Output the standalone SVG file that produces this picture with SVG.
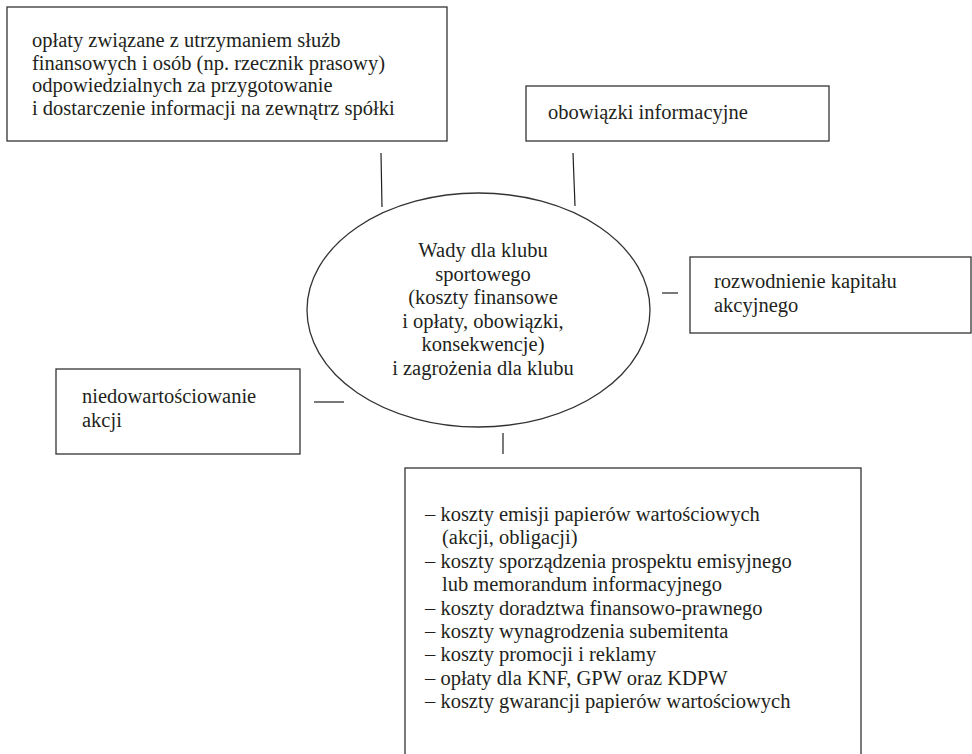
<svg xmlns="http://www.w3.org/2000/svg" width="972" height="754" viewBox="0 0 972 754">
<style>
.box{fill:#fff;stroke:#333;stroke-width:1.3}
.t{font-family:"Liberation Serif","Times New Roman",serif;font-size:20.5px;fill:#231f20}
.c{text-anchor:middle}
.ln{stroke:#231f20;stroke-width:1.2;fill:none}
</style>
<rect width="972" height="754" fill="#fff"/>
<g id="connectors">
<line class="ln" x1="381" y1="153" x2="382" y2="207"/>
<line class="ln" x1="573" y1="153" x2="575" y2="206"/>
<line class="ln" x1="662" y1="293" x2="678" y2="293"/>
<line class="ln" x1="314" y1="402" x2="344" y2="402"/>
<line class="ln" x1="503" y1="433" x2="503" y2="454"/>
</g>
<g id="node-oplaty">
<rect class="box" x="7" y="7" width="440" height="134"/>
<text class="t" x="32" y="47">opłaty związane z utrzymaniem służb</text>
<text class="t" x="32" y="69.5">finansowych i osób (np. rzecznik prasowy)</text>
<text class="t" x="32" y="92">odpowiedzialnych za przygotowanie</text>
<text class="t" x="32" y="114.5">i dostarczenie informacji na zewnątrz spółki</text>
</g>
<g id="node-obowiazki">
<rect class="box" x="526" y="86" width="303" height="55"/>
<text class="t" x="548" y="119">obowiązki informacyjne</text>
</g>
<g id="node-center">
<ellipse class="box" cx="478.5" cy="310" rx="171.5" ry="117"/>
<text class="t c" x="483" y="257">Wady dla klubu</text>
<text class="t c" x="483" y="280.5">sportowego</text>
<text class="t c" x="483" y="304">(koszty finansowe</text>
<text class="t c" x="483" y="327.5">i opłaty, obowiązki,</text>
<text class="t c" x="483" y="351">konsekwencje)</text>
<text class="t c" x="483" y="374.5">i zagrożenia dla klubu</text>
</g>
<g id="node-rozwodnienie">
<rect class="box" x="690" y="257" width="281" height="76"/>
<text class="t" x="714" y="288">rozwodnienie kapitału</text>
<text class="t" x="714" y="312">akcyjnego</text>
</g>
<g id="node-niedowartosciowanie">
<rect class="box" x="56" y="369" width="244" height="85"/>
<text class="t" x="82" y="403">niedowartościowanie</text>
<text class="t" x="82" y="427">akcji</text>
</g>
<g id="node-koszty">
<rect class="box" x="405" y="468" width="456" height="300"/>
<text class="t" x="425" y="521">– koszty emisji papierów wartościowych</text>
<text class="t" x="442" y="544.4">(akcji, obligacji)</text>
<text class="t" x="425" y="567.8">– koszty sporządzenia prospektu emisyjnego</text>
<text class="t" x="442" y="591.2">lub memorandum informacyjnego</text>
<text class="t" x="425" y="614.6">– koszty doradztwa finansowo-prawnego</text>
<text class="t" x="425" y="638">– koszty wynagrodzenia subemitenta</text>
<text class="t" x="425" y="661.4">– koszty promocji i reklamy</text>
<text class="t" x="425" y="684.8">– opłaty dla KNF, GPW oraz KDPW</text>
<text class="t" x="425" y="708.2">– koszty gwarancji papierów wartościowych</text>
</g>
</svg>
